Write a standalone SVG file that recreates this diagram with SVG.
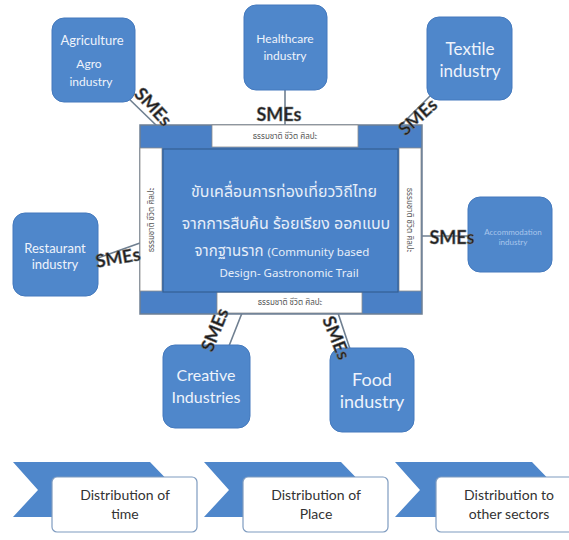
<svg xmlns="http://www.w3.org/2000/svg" width="569" height="540" viewBox="0 0 569 540">
<style>
.node{fill:#4f87cb;stroke:#4479bd;stroke-width:1}
.nt{font-family:Lato,"Open Sans","Liberation Sans",sans-serif;fill:#eef3fb;text-anchor:middle}
.sme{font-family:Lato,"Liberation Sans",sans-serif;font-weight:bold;font-size:18px;fill:#1e1e1e;stroke:#7a7a7a;stroke-width:0.5;text-anchor:middle}
.conn{stroke:#6f7f90;stroke-width:1.6;fill:none}
.bar{fill:#ffffff;stroke:#8c8c8c;stroke-width:0.8}
.bt{font-family:"Noto Sans Thai","Noto Sans","Liberation Sans",sans-serif;font-size:8px;fill:#555;text-anchor:middle}
.th{font-family:"Noto Sans Thai","Noto Sans","Open Sans",sans-serif;fill:#e6eef9;text-anchor:middle}
.chev{fill:#4f87cb}
.box{fill:#ffffff;stroke:#7f9cc0;stroke-width:1.2}
.bx{font-family:Lato,"Open Sans","Liberation Sans",sans-serif;font-size:14px;fill:#333;text-anchor:middle}
</style>
<rect width="569" height="540" fill="#ffffff"/>
<g id="connectors">
<line class="conn" x1="125" y1="95" x2="158" y2="127"/>
<line class="conn" x1="285" y1="90" x2="285" y2="125"/>
<line class="conn" x1="430" y1="96" x2="400" y2="126"/>
<line class="conn" x1="98" y1="258" x2="140" y2="243"/>
<line class="conn" x1="422" y1="236" x2="468" y2="236"/>
<line class="conn" x1="242" y1="313" x2="229" y2="346"/>
<line class="conn" x1="338" y1="313" x2="350" y2="349"/>
</g>
<g id="center">
<rect x="140" y="125" width="282" height="189" fill="#4a80c6" stroke="#6d7f94" stroke-width="1.5"/>
<rect class="bar" x="212" y="125" width="146" height="22"/>
<rect class="bar" x="140" y="148" width="22" height="143"/>
<rect class="bar" x="399" y="148" width="22" height="143"/>
<rect class="bar" x="217" y="292" width="145" height="21"/>
<rect x="163" y="149" width="235" height="143" fill="#4a82c8" stroke="#355f94" stroke-width="1.2"/>
<text class="bt" x="285" y="139">ธรรมชาติ ชีวิต ศิลปะ</text>
<text class="bt" x="290" y="305">ธรรมชาติ ชีวิต ศิลปะ</text>
<text class="bt" transform="translate(154,220) rotate(-90)">ธรรมชาติ ชีวิต ศิลปะ</text>
<text class="bt" transform="translate(407,220) rotate(90)">ธรรมชาติ ชีวิต ศิลปะ</text>
<text class="th" x="284" y="197" font-size="16">ขับเคลื่อนการท่องเที่ยววิถีไทย</text>
<text class="th" x="286" y="229" font-size="16">จากการสืบค้น ร้อยเรียง ออกแบบ</text>
<text class="th" x="282" y="256" font-size="15">จากฐานราก <tspan font-size="11.5">(Community based</tspan></text>
<text class="th" x="289" y="277" font-size="11.5">Design- Gastronomic Trail</text>
</g>
<g id="agriculture">
<rect class="node" x="52" y="18" width="83" height="84" rx="12"/>
<text class="nt" x="92" y="45" font-size="13">Agriculture</text>
<text class="nt" x="89" y="68" font-size="12">Agro</text>
<text class="nt" x="91" y="86" font-size="12">industry</text>
</g>
<g id="healthcare">
<rect class="node" x="244" y="5" width="83" height="85" rx="12"/>
<text class="nt" x="285" y="43" font-size="12">Healthcare</text>
<text class="nt" x="285" y="60" font-size="12">industry</text>
</g>
<g id="textile">
<rect class="node" x="427" y="17" width="85" height="83" rx="12"/>
<text class="nt" x="470" y="55" font-size="17">Textile</text>
<text class="nt" x="470" y="77" font-size="17">industry</text>
</g>
<g id="restaurant">
<rect class="node" x="13" y="213" width="85" height="83" rx="12"/>
<text class="nt" x="55" y="253" font-size="13">Restaurant</text>
<text class="nt" x="55" y="269" font-size="13">industry</text>
</g>
<g id="accommodation">
<rect class="node" x="468" y="197" width="84" height="75" rx="12"/>
<text class="nt" x="513" y="235" font-size="8" fill="#a9c6ec" style="fill:#a9c6ec">Accommodation</text>
<text class="nt" x="513" y="245" font-size="8" style="fill:#a9c6ec">industry</text>
</g>
<g id="creative">
<rect class="node" x="163" y="345" width="87" height="83" rx="12"/>
<text class="nt" x="206" y="381" font-size="16">Creative</text>
<text class="nt" x="206" y="403" font-size="16">Industries</text>
</g>
<g id="food">
<rect class="node" x="330" y="348" width="84" height="84" rx="12"/>
<text class="nt" x="372" y="386" font-size="18">Food</text>
<text class="nt" x="372" y="408" font-size="18">industry</text>
</g>
<g id="smes">
<text class="sme" transform="translate(153,107) rotate(47)" y="6">SMEs</text>
<text class="sme" transform="translate(279,115)" y="6">SMEs</text>
<text class="sme" transform="translate(418,117) rotate(-42)" y="6">SMEs</text>
<text class="sme" transform="translate(118,258) rotate(-10)" y="6">SMEs</text>
<text class="sme" transform="translate(452,238)" y="6">SMEs</text>
<text class="sme" transform="translate(215,330) rotate(-68)" y="6">SMEs</text>
<text class="sme" transform="translate(336,338) rotate(68)" y="6">SMEs</text>
</g>
<g id="dist-time">
<polygon class="chev" points="13,462 150,462 177,490 150,517 13,517 38,490"/>
<rect class="box" x="52" y="477" width="145" height="55" rx="5"/>
<text class="bx" x="125" y="500">Distribution of</text>
<text class="bx" x="125" y="519">time</text>
</g>
<g id="dist-place">
<polygon class="chev" points="204,462 341,462 368,490 341,517 204,517 229,490"/>
<rect class="box" x="243" y="477" width="145" height="55" rx="5"/>
<text class="bx" x="316" y="500">Distribution of</text>
<text class="bx" x="316" y="519">Place</text>
</g>
<g id="dist-sectors">
<polygon class="chev" points="395,462 532,462 559,490 532,517 395,517 420,490"/>
<rect class="box" x="436" y="477" width="145" height="55" rx="5"/>
<text class="bx" x="509" y="500">Distribution to</text>
<text class="bx" x="509" y="519">other sectors</text>
</g>
</svg>
